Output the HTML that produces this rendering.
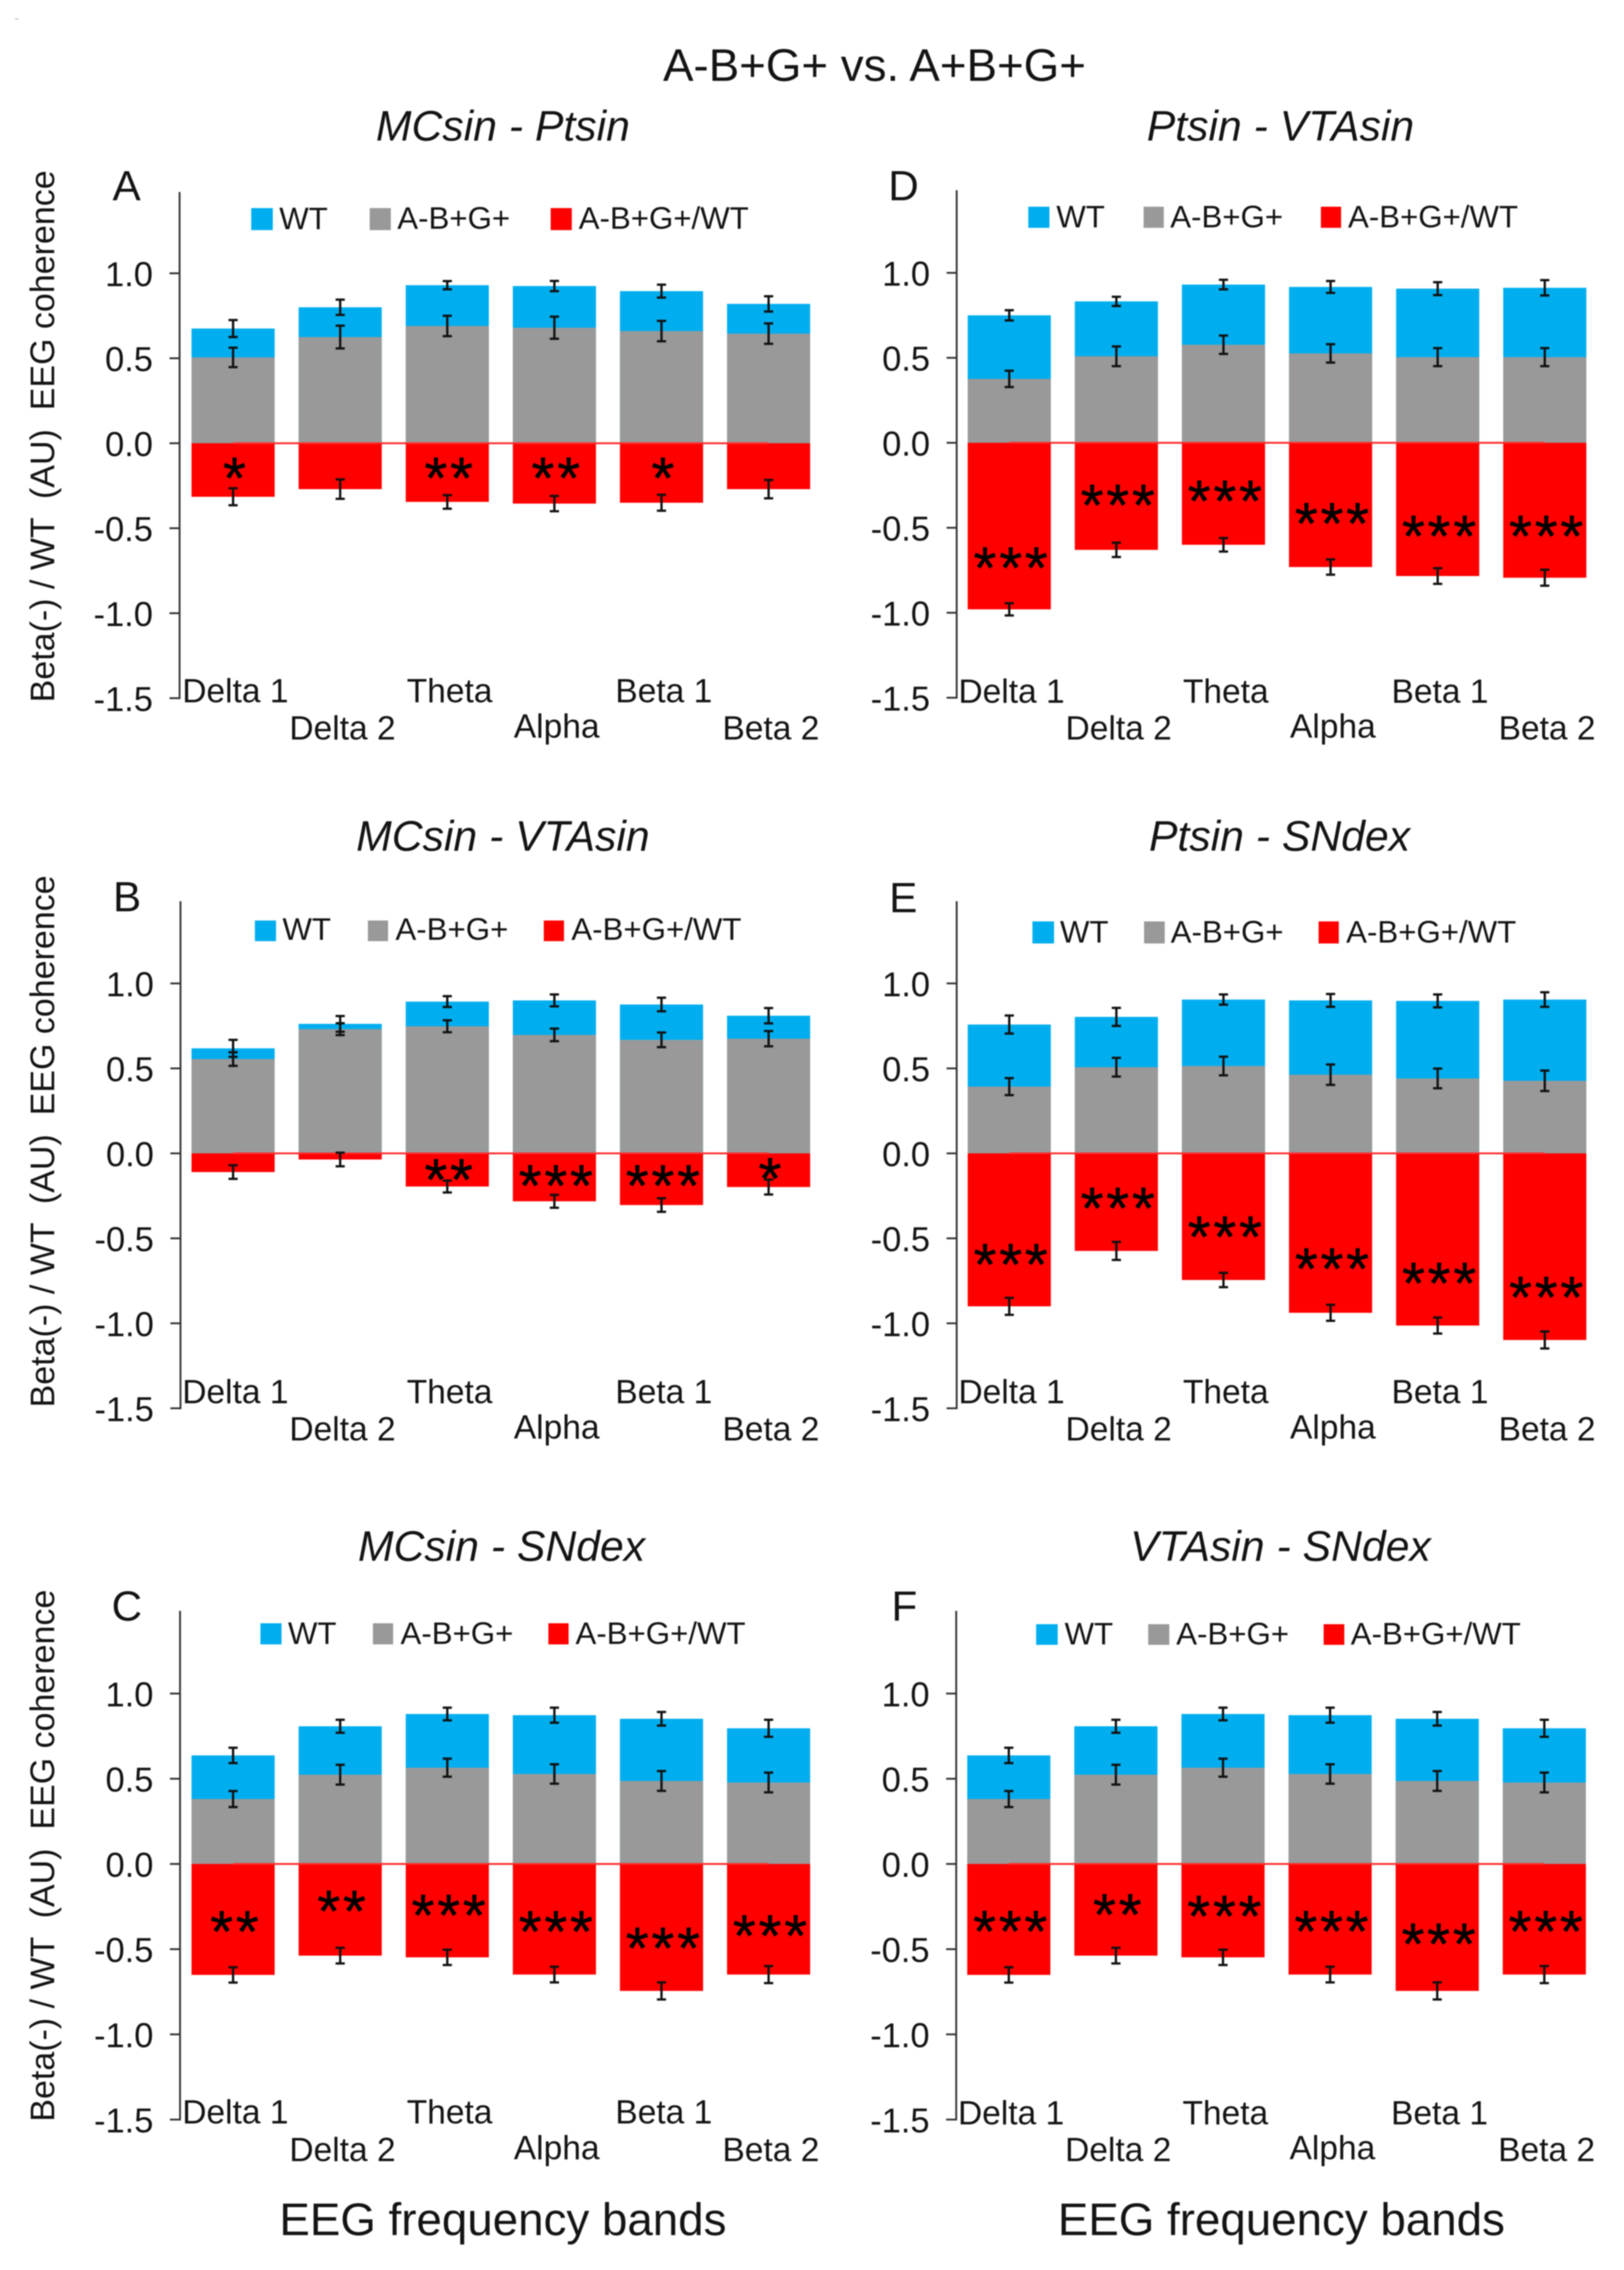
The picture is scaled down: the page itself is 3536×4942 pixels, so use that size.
<!DOCTYPE html>
<html lang="en">
<head>
<meta charset="utf-8">
<title>A-B+G+ vs. A+B+G+ EEG coherence</title>
<style>
html,body{margin:0;padding:0;background:#fff;}
svg{display:block;filter:blur(1.2px);}
text{font-family:"Liberation Sans",sans-serif;fill:#141414;}
.tt{font-size:93px;font-style:italic;text-anchor:middle;}
.ltr{font-size:92px;}
.lg{font-size:68px;}
.yt{font-size:74px;text-anchor:middle;}
.xt{font-size:99.5px;text-anchor:middle;}
</style>
</head>
<body>
<svg id="chart" xmlns="http://www.w3.org/2000/svg" width="3536" height="4942" viewBox="0 0 3536 4942">
  <rect x="0" y="0" width="3536" height="4942" fill="#ffffff"/>
  <rect x="33" y="40" width="7" height="3" fill="#c8c8c8"/>
  <text x="1904" y="176" font-size="99.5" text-anchor="middle">A-B+G+ vs. A+B+G+</text>

  <g id="panel-a">
    <text class="tt" x="1095" y="306">MCsin - Ptsin</text>
    <text class="ltr" x="245" y="436">A</text>
    <text class="yt" transform="translate(118 950) rotate(-90)" xml:space="preserve">Beta(-) / WT  (AU)  EEG coherence</text>
    <g>
      <rect x="547" y="453" width="47" height="48" fill="#00aeef"/>
      <text class="lg" x="608" y="499">WT</text>
      <rect x="805" y="453" width="46" height="48" fill="#999999"/>
      <text class="lg" x="865" y="498">A-B+G+</text>
      <rect x="1199" y="453" width="46" height="48" fill="#ff0000"/>
      <text class="lg" x="1260" y="498">A-B+G+/WT</text>
    </g>
  </g>

  <g id="panel-b">
    <text class="tt" x="1095" y="1852">MCsin - VTAsin</text>
    <text class="ltr" x="246" y="1984">B</text>
    <text class="yt" transform="translate(118 2485) rotate(-90)" xml:space="preserve">Beta(-) / WT  (AU)  EEG coherence</text>
    <g>
      <rect x="555" y="2004" width="46" height="45" fill="#00aeef"/>
      <text class="lg" x="615" y="2046">WT</text>
      <rect x="801" y="2004" width="44" height="45" fill="#999999"/>
      <text class="lg" x="861" y="2046">A-B+G+</text>
      <rect x="1184" y="2004" width="44" height="45" fill="#ff0000"/>
      <text class="lg" x="1244" y="2046">A-B+G+/WT</text>
    </g>
  </g>

  <g id="panel-c">
    <text class="tt" x="1092" y="3398">MCsin - SNdex</text>
    <text class="ltr" x="243" y="3528">C</text>
    <text class="yt" transform="translate(118 4040) rotate(-90)" xml:space="preserve">Beta(-) / WT  (AU)  EEG coherence</text>
    <text class="xt" x="1095" y="4866">EEG frequency bands</text>
    <g>
      <rect x="567" y="3534" width="46" height="46" fill="#00aeef"/>
      <text class="lg" x="627" y="3579">WT</text>
      <rect x="812" y="3534" width="44" height="46" fill="#999999"/>
      <text class="lg" x="872" y="3579">A-B+G+</text>
      <rect x="1194" y="3534" width="44" height="46" fill="#ff0000"/>
      <text class="lg" x="1253" y="3579">A-B+G+/WT</text>
    </g>
  </g>

  <g id="panel-d">
    <text class="tt" x="2788" y="306">Ptsin - VTAsin</text>
    <text class="ltr" x="1934" y="436">D</text>
    <g>
      <rect x="2239" y="450" width="46" height="46" fill="#00aeef"/>
      <text class="lg" x="2300" y="495">WT</text>
      <rect x="2490" y="450" width="44" height="46" fill="#999999"/>
      <text class="lg" x="2548" y="495">A-B+G+</text>
      <rect x="2876" y="450" width="44" height="46" fill="#ff0000"/>
      <text class="lg" x="2935" y="495">A-B+G+/WT</text>
    </g>
  </g>

  <g id="panel-e">
    <text class="tt" x="2786" y="1852">Ptsin - SNdex</text>
    <text class="ltr" x="1936" y="1986">E</text>
    <g>
      <rect x="2248" y="2006" width="47" height="48" fill="#00aeef"/>
      <text class="lg" x="2308" y="2052">WT</text>
      <rect x="2491" y="2006" width="45" height="48" fill="#999999"/>
      <text class="lg" x="2549" y="2052">A-B+G+</text>
      <rect x="2871" y="2006" width="44" height="48" fill="#ff0000"/>
      <text class="lg" x="2931" y="2052">A-B+G+/WT</text>
    </g>
  </g>

  <g id="panel-f">
    <text class="tt" x="2788" y="3398">VTAsin - SNdex</text>
    <text class="ltr" x="1941" y="3528">F</text>
    <text class="xt" x="2790" y="4866">EEG frequency bands</text>
    <g>
      <rect x="2256" y="3536" width="47" height="45" fill="#00aeef"/>
      <text class="lg" x="2318" y="3580">WT</text>
      <rect x="2500" y="3536" width="46" height="45" fill="#999999"/>
      <text class="lg" x="2561" y="3580">A-B+G+</text>
      <rect x="2882" y="3536" width="45" height="45" fill="#ff0000"/>
      <text class="lg" x="2941" y="3580">A-B+G+/WT</text>
    </g>
  </g>
</svg>
<script>
var categories = ['Delta 1','Delta 2','Theta','Alpha','Beta 1','Beta 2'];
var tickValues = [1.0,0.5,0.0,-0.5,-1.0,-1.5];
var tickLabels = ['1.0','0.5','0.0','-0.5','-1.0','-1.5'];

var wtA = [0.675,0.80,0.93,0.925,0.895,0.82];
var grayA = [0.505,0.625,0.69,0.68,0.66,0.645];
var redA = [-0.315,-0.27,-0.345,-0.355,-0.35,-0.27];
var wtErrA = [0.05,0.045,0.024,0.03,0.038,0.045];
var grayErrA = [0.057,0.067,0.06,0.065,0.06,0.06];
var redErrA = [0.05,0.057,0.04,0.045,0.047,0.054];
var sigA = ['*','','**','**','*',''];
var sigLevelA = [-0.147,0,-0.147,-0.147,-0.147,0];

var wtB = [0.618,0.762,0.893,0.90,0.876,0.81];
var grayB = [0.555,0.731,0.748,0.697,0.668,0.675];
var redB = [-0.11,-0.036,-0.195,-0.282,-0.304,-0.198];
var wtErrB = [0.05,0.046,0.032,0.035,0.04,0.045];
var grayErrB = [0.04,0.035,0.035,0.037,0.043,0.045];
var redErrB = [0.04,0.04,0.035,0.038,0.04,0.044];
var sigB = ['','','**','***','***','*'];
var sigLevelB = [0,0,-0.097,-0.133,-0.133,-0.09];

var wtC = [0.637,0.808,0.88,0.873,0.852,0.796];
var grayC = [0.381,0.524,0.565,0.528,0.487,0.478];
var redC = [-0.651,-0.538,-0.548,-0.649,-0.745,-0.649];
var wtErrC = [0.045,0.038,0.037,0.044,0.04,0.05];
var grayErrC = [0.047,0.058,0.053,0.057,0.058,0.058];
var redErrC = [0.045,0.046,0.045,0.046,0.05,0.05];
var sigC = ['**','**','***','***','***','***'];
var sigLevelC = [-0.34,-0.22,-0.244,-0.34,-0.437,-0.364];

var wtD = [0.75,0.832,0.931,0.917,0.907,0.912];
var grayD = [0.376,0.509,0.577,0.526,0.504,0.504];
var redD = [-0.98,-0.63,-0.60,-0.731,-0.784,-0.794];
var wtErrD = [0.03,0.027,0.028,0.035,0.038,0.045];
var grayErrD = [0.048,0.058,0.054,0.054,0.053,0.053];
var redErrD = [0.036,0.042,0.04,0.045,0.046,0.047];
var sigD = ['***','***','***','***','***','***'];
var sigLevelD = [-0.678,-0.309,-0.285,-0.417,-0.492,-0.492];

var wtE = [0.758,0.803,0.905,0.90,0.897,0.905];
var grayE = [0.393,0.507,0.514,0.463,0.441,0.427];
var redE = [-0.90,-0.574,-0.745,-0.938,-1.013,-1.098];
var wtErrE = [0.053,0.053,0.03,0.038,0.038,0.043];
var grayErrE = [0.05,0.055,0.055,0.06,0.058,0.06];
var redErrE = [0.05,0.053,0.042,0.047,0.047,0.05];
var sigE = ['***','***','***','***','***','***'];
var sigLevelE = [-0.596,-0.265,-0.434,-0.622,-0.707,-0.789];

var wtF = [0.637,0.808,0.88,0.873,0.852,0.796];
var grayF = [0.381,0.524,0.565,0.528,0.487,0.478];
var redF = [-0.651,-0.538,-0.548,-0.649,-0.745,-0.649];
var wtErrF = [0.045,0.038,0.037,0.044,0.04,0.05];
var grayErrF = [0.047,0.058,0.053,0.057,0.058,0.058];
var redErrF = [0.045,0.046,0.045,0.046,0.05,0.05];
var sigF = ['***','**','***','***','***','***'];
var sigLevelF = [-0.338,-0.24,-0.249,-0.338,-0.413,-0.338];

var SVGNS = 'http://www.w3.org/2000/svg';

function make(parent, tag, attrs, content) {
  var node = document.createElementNS(SVGNS, tag);
  for (var k in attrs) { node.setAttribute(k, attrs[k]); }
  if (content !== undefined) { node.textContent = content; }
  parent.appendChild(node);
  return node;
}

function drawPanel(p) {
  var host = document.getElementById(p.id);
  var unit = p.unit, band = 233.2, barW = 181;
  function yScale(v) { return p.zero - v * unit; }
  function xLeft(i) { return p.barStart + i * band; }
  function xMid(i) { return xLeft(i) + barW / 2; }
  var el;

  p.wt.forEach(function (v, i) {
    el = make(host, 'rect', {x: xLeft(i), y: yScale(v), width: barW, height: yScale(0) - yScale(v), fill: '#00aeef'});
    
    
  });
  p.gray.forEach(function (v, i) {
    el = make(host, 'rect', {x: xLeft(i), y: yScale(v), width: barW, height: yScale(0) - yScale(v), fill: '#999999'});
    
    
  });
  p.red.forEach(function (v, i) {
    el = make(host, 'rect', {x: xLeft(i), y: yScale(0), width: barW, height: yScale(v) - yScale(0), fill: '#ff0000'});
    
    
  });

  el = make(host, 'line', {x1: xMid(0), x2: xMid(p.red.length - 1), y1: yScale(0), y2: yScale(0), stroke: '#ff2a2a', 'stroke-width': 4});
  
  

  function errorBars(values, errors, label) {
    values.forEach(function (v, i) {
      var g = make(host, 'g', {stroke: '#111111', 'stroke-width': 5, fill: 'none'});
      
      
      var cx = xMid(i), hi = yScale(v + errors[i]), lo = yScale(v - errors[i]);
      make(g, 'line', {x1: cx, x2: cx, y1: hi, y2: lo});
      make(g, 'line', {x1: cx - 10, x2: cx + 10, y1: hi, y2: hi});
      make(g, 'line', {x1: cx - 10, x2: cx + 10, y1: lo, y2: lo});
    });
  }
  errorBars(p.wt, p.wtErr, 'wt-error-bar');
  errorBars(p.gray, p.grayErr, 'mutant-error-bar');
  errorBars(p.red, p.redErr, 'ratio-error-bar');

  p.sig.forEach(function (s, i) {
    if (!s) { return; }
    el = make(host, 'text', {x: xMid(i) + 6, y: yScale(p.sigLevel[i]) + 65, 'font-size': 128, 'letter-spacing': 6, 'text-anchor': 'middle', stroke: '#000000', 'stroke-width': 1, style: 'fill:#000'}, s);
    
    
  });

  el = make(host, 'line', {x1: p.axisX, x2: p.axisX, y1: p.axisTop, y2: yScale(-1.5) + 2, stroke: '#333333', 'stroke-width': 4});
  
  

  tickValues.forEach(function (t, i) {
    el = make(host, 'line', {x1: p.axisX - 22, x2: p.axisX, y1: yScale(t), y2: yScale(t), stroke: '#333333', 'stroke-width': 4});
    
    
    el = make(host, 'text', {x: p.axisX - 58, y: yScale(t) + 28, 'font-size': 75, 'text-anchor': 'end'}, tickLabels[i]);
    
    
  });

  categories.forEach(function (c, i) {
    var base = (i % 2 === 0) ? p.catRow1 : p.catRow2;
    if (c === 'Alpha') { base -= 4; }
    el = make(host, 'text', {x: xMid(i) + 5, y: p.zero + base, 'font-size': 73, 'text-anchor': 'middle'}, c);
    
    
  });
}

drawPanel({id:'panel-a', axisX:391, barStart:417, zero:965, unit:370, axisTop:418, catRow1:564, catRow2:645, wt:wtA, gray:grayA, red:redA, wtErr:wtErrA, grayErr:grayErrA, redErr:redErrA, sig:sigA, sigLevel:sigLevelA});
drawPanel({id:'panel-b', axisX:393, barStart:417, zero:2511, unit:370, axisTop:1962, catRow1:544, catRow2:625, wt:wtB, gray:grayB, red:redB, wtErr:wtErrB, grayErr:grayErrB, redErr:redErrB, sig:sigB, sigLevel:sigLevelB});
drawPanel({id:'panel-c', axisX:392, barStart:417, zero:4058, unit:371, axisTop:3507, catRow1:565, catRow2:647, wt:wtC, gray:grayC, red:redC, wtErr:wtErrC, grayErr:grayErrC, redErr:redErrC, sig:sigC, sigLevel:sigLevelC});
drawPanel({id:'panel-d', axisX:2083, barStart:2107, zero:964, unit:370, axisTop:414, catRow1:566, catRow2:646, wt:wtD, gray:grayD, red:redD, wtErr:wtErrD, grayErr:grayErrD, redErr:redErrD, sig:sigD, sigLevel:sigLevelD});
drawPanel({id:'panel-e', axisX:2083, barStart:2107, zero:2511, unit:370, axisTop:1962, catRow1:544, catRow2:625, wt:wtE, gray:grayE, red:redE, wtErr:wtErrE, grayErr:grayErrE, redErr:redErrE, sig:sigE, sigLevel:sigLevelE});
drawPanel({id:'panel-f', axisX:2082, barStart:2106, zero:4058, unit:371, axisTop:3507, catRow1:567, catRow2:647, wt:wtF, gray:grayF, red:redF, wtErr:wtErrF, grayErr:grayErrF, redErr:redErrF, sig:sigF, sigLevel:sigLevelF});
</script>
</body>
</html>
